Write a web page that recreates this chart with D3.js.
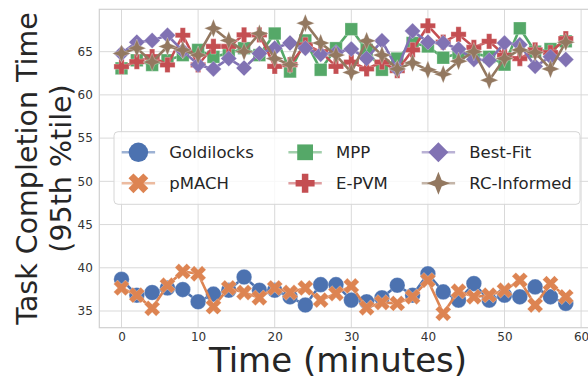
<!DOCTYPE html>
<html><head><meta charset="utf-8">
<script src="https://cdn.jsdelivr.net/npm/d3@7/dist/d3.min.js"></script>
<style>body{margin:0;background:#fff} svg{display:block;font-family:"DejaVu Sans",sans-serif}</style>
</head><body>
<script>
// Sampling times (minutes)
const times = [0, 2, 4, 6, 8, 10, 12, 14, 16, 18, 20, 22, 24, 26, 28,
               30, 32, 34, 36, 38, 40, 42, 44, 46, 48, 50, 52, 54, 56, 58];

// 95th percentile task completion time per policy
const goldilocks = [38.66, 36.83, 37.14, 37.67, 37.48, 36.07, 36.95, 37.40, 38.93, 37.40,
                    37.40, 36.64, 35.69, 38.05, 38.05, 36.26, 36.07, 36.53, 37.98, 36.83,
                    39.31, 37.21, 36.26, 38.17, 36.26, 36.83, 36.64, 37.79, 36.64, 35.88];
const pmach      = [37.67, 36.83, 35.31, 37.98, 39.58, 39.31, 35.50, 37.67, 37.14, 36.53,
                    37.67, 37.14, 37.67, 36.26, 37.02, 37.90, 35.38, 35.99, 35.88, 36.64,
                    38.55, 34.73, 37.29, 36.64, 36.83, 37.40, 38.55, 35.69, 38.17, 36.64];
const mpp        = [63.07, 64.00, 63.46, 64.00, 64.60, 65.20, 64.40, 64.80, 65.40, 64.60,
                    67.10, 62.70, 66.30, 62.90, 65.40, 67.60, 65.20, 62.90, 64.20, 66.00,
                    65.60, 64.30, 64.80, 64.80, 64.40, 63.50, 67.70, 65.00, 65.30, 66.20];
const epvm       = [63.26, 63.84, 64.42, 63.46, 66.90, 63.46, 65.60, 65.60, 66.95, 66.95,
                    63.30, 63.50, 65.80, 65.00, 63.30, 63.80, 63.00, 63.80, 62.80, 65.20,
                    68.00, 66.10, 67.00, 65.50, 66.20, 64.60, 64.20, 65.20, 64.90, 66.50];
const bestFit    = [64.80, 66.10, 66.30, 66.90, 65.10, 63.50, 63.00, 64.20, 63.10, 64.80,
                    65.40, 66.00, 65.40, 64.70, 64.90, 65.30, 64.20, 66.25, 63.00, 67.40,
                    66.10, 66.00, 65.30, 64.10, 64.00, 66.00, 65.80, 63.30, 64.40, 64.10];
const rcInformed = [64.80, 65.40, 63.80, 65.60, 65.20, 64.60, 67.70, 66.30, 65.00, 67.10,
                    64.20, 63.50, 68.30, 66.00, 64.60, 62.60, 66.25, 64.60, 63.00, 63.70,
                    62.90, 62.40, 63.90, 65.00, 61.70, 64.20, 65.20, 64.90, 63.00, 66.10];

const seriesNames = ["Goldilocks", "pMACH", "MPP", "E-PVM", "Best-Fit", "RC-Informed"];
const xTicks = [0, 10, 20, 30, 40, 50, 60];
const yTicks = [35, 40, 45, 50, 55, 60, 65];

const W = 588, H = 379;
const plot = {left: 99.3, top: 9.3, right: 588, bottom: 327.7};

const svg = d3.select("body").append("svg").attr("width", W).attr("height", H);

const x = d3.scaleLinear().domain([-2.9, 60.9]).range([plot.left, plot.right]);
const y = d3.scaleLinear().domain([33.07, 69.9]).range([plot.bottom, plot.top]);

const palette = ["#4C72B0", "#DD8452", "#55A868", "#C44E52", "#8172B3", "#937860"];

// marker shapes, centred on the origin
function polygon(pts) { return "M" + pts.map(p => p[0].toFixed(2) + "," + p[1].toFixed(2)).join("L") + "Z"; }
function plusPts(s, w) {
  return [[-w,-s],[w,-s],[w,-w],[s,-w],[s,w],[w,w],[w,s],[-w,s],[-w,w],[-s,w],[-s,-w],[-w,-w]];
}
function rotate(pts, a) {
  const c = Math.cos(a), s = Math.sin(a);
  return pts.map(p => [p[0]*c - p[1]*s, p[0]*s + p[1]*c]);
}
const markers = [
  k => { const r = 7.8*k; return `M${r},0A${r},${r} 0 1,1 ${-r},0A${r},${r} 0 1,1 ${r},0Z`; },
  k => polygon(rotate(plusPts(8.4*k, 2.8*k), Math.PI/4)),
  k => { const h = 6.3*k; return polygon([[-h,-h],[h,-h],[h,h],[-h,h]]); },
  k => polygon(plusPts(7.6*k, 2.6*k)),
  k => { const h = 8.0*k; return polygon([[0,-h],[h,0],[0,h],[-h,0]]); },
  k => { const s = 9.2*k, c = 2.6*k; return polygon([[0,-s],[c,-c],[s,0],[c,c],[0,s],[-c,c],[-s,0],[-c,-c]]); }
];

// grid
const grid = svg.append("g").attr("stroke", "#d9d9d9").attr("stroke-width", 1);
grid.selectAll("line.gy").data(yTicks).join("line")
  .attr("x1", plot.left).attr("x2", plot.right)
  .attr("y1", d => y(d)).attr("y2", d => y(d));
grid.selectAll("line.gx").data(xTicks).join("line")
  .attr("y1", plot.top).attr("y2", plot.bottom)
  .attr("x1", d => x(d)).attr("x2", d => x(d));

// frame
svg.append("rect").attr("x", plot.left).attr("y", plot.top)
  .attr("width", plot.right - plot.left + 2).attr("height", plot.bottom - plot.top)
  .attr("fill", "none").attr("stroke", "#d0d0d0").attr("stroke-width", 1.2);

// axes
const xAxis = svg.append("g").attr("transform", `translate(0,${plot.bottom})`)
  .call(d3.axisBottom(x).tickValues(xTicks).tickSize(0).tickPadding(5));
const yAxis = svg.append("g").attr("transform", `translate(${plot.left},0)`)
  .call(d3.axisLeft(y).tickValues(yTicks).tickSize(0).tickPadding(6.5));
[xAxis, yAxis].forEach(a => {
  a.select(".domain").remove();
  a.selectAll("text").attr("font-size", 12).attr("fill", "#333")
    .attr("font-family", "DejaVu Sans");
});

// series
const allSeries = [goldilocks, pmach, mpp, epvm, bestFit, rcInformed];
const line = d3.line().x((d, i) => x(times[i])).y(d => y(d));
allSeries.forEach((vals, s) => {
  const g = svg.append("g");
  g.append("path").attr("d", line(vals)).attr("fill", "none")
    .attr("stroke", palette[s]).attr("stroke-width", 2.6).attr("stroke-linejoin", "round");
  g.selectAll("path.m").data(vals).join("path").attr("class", "m")
    .attr("d", markers[s](1))
    .attr("transform", (d, i) => `translate(${x(times[i])},${y(d)})`)
    .attr("fill", palette[s]).attr("stroke", "#fff").attr("stroke-opacity", 0.35).attr("stroke-width", 0.8);
});

// legend
const leg = svg.append("g");
leg.append("rect").attr("x", 114).attr("y", 131.7).attr("width", 466).attr("height", 72.6)
  .attr("rx", 4).attr("fill", "#fff").attr("fill-opacity", 0.8)
  .attr("stroke", "#d6d6d6").attr("stroke-width", 1);
const colX = [121.7, 288.4, 421.7];
const rowY = [152.3, 183.3];
seriesNames.forEach((name, s) => {
  const cx = colX[Math.floor(s / 2)], cy = rowY[s % 2];
  leg.append("line").attr("x1", cx).attr("x2", cx + 33.4).attr("y1", cy).attr("y2", cy)
    .attr("stroke", palette[s]).attr("stroke-width", 2.6).attr("stroke-opacity", 0.55);
  leg.append("path").attr("d", markers[s](1.25))
    .attr("transform", `translate(${cx + 16.7},${cy})`).attr("fill", palette[s]);
  leg.append("text").attr("x", cx + 47.6).attr("y", cy).attr("dy", "0.36em")
    .attr("font-size", 16.5).attr("fill", "#262626").text(name);
});

// axis titles
svg.append("text").attr("x", 338).attr("y", 372)
  .attr("text-anchor", "middle").attr("font-size", 34).attr("fill", "#262626")
  .text("Time (minutes)");
const yl = svg.append("text").attr("transform", `translate(0,${(plot.top + plot.bottom) / 2}) rotate(-90)`)
  .attr("text-anchor", "middle").attr("font-size", 28.5).attr("fill", "#262626");
yl.append("tspan").attr("x", 0).attr("y", 37).text("Task Completion Time");
yl.append("tspan").attr("x", 0).attr("y", 71).text("(95th %tile)");
</script>
</body></html>
